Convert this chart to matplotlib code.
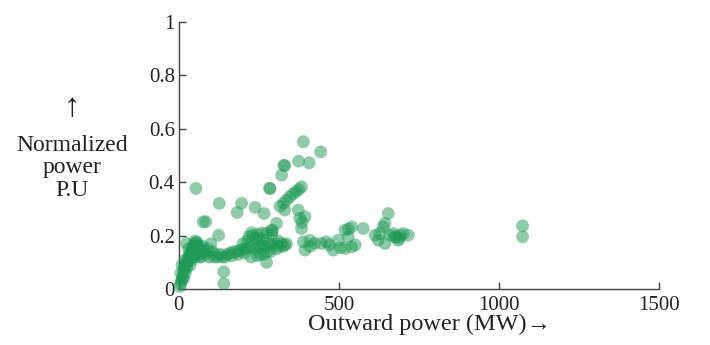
import numpy as np
import matplotlib
matplotlib.use("Agg")
import matplotlib.pyplot as plt

plt.rcParams['font.family'] = ['Liberation Serif', 'DejaVu Serif']

# outward power (MW) and normalized power (P.U)
power_mw = [
    3, 5, 6, 8, 10, 10, 12, 15, 15, 18, 20, 20, 22, 25, 25, 28, 30, 30, 33, 35,
    35, 38, 40, 40, 42, 45, 45, 48, 50, 50, 52, 55, 55, 58, 60, 62, 65, 68, 70, 24,
    56, 63, 73, 75, 80, 85, 90, 95, 100, 105, 110, 115, 120, 124, 130, 135, 140, 140,
    150, 160, 170, 180, 190, 200, 210, 220, 230, 240, 250, 260, 270, 280, 290, 300,
    310, 320, 331, 145, 165, 185, 205, 225, 245, 265, 285, 305, 325,
    218, 230, 245, 260, 275, 291, 227, 250, 264, 290, 310, 336, 200, 215, 240, 255,
    274, 275, 126, 196, 182, 238, 266, 76, 84, 53, 305, 284, 292,
    389, 443, 374, 407, 328, 331, 321, 284,
    316, 326, 336, 346, 356, 366, 375, 383, 331,
    373, 378, 394, 383, 385,
    389, 394, 409, 424, 445, 461, 482, 498, 519, 540, 529, 540, 519, 576, 551, 530,
    410, 470, 505,
    654, 644, 638, 628, 613, 623, 644, 670, 680, 691, 701, 717, 659, 685, 690, 675,
    1074, 1074,
]
norm_pu = [
    0.01, 0.02, 0.06, 0.03, 0.04, 0.09, 0.05, 0.07, 0.04, 0.08, 0.06, 0.11, 0.09, 0.10, 0.08, 0.11, 0.12, 0.15, 0.13, 0.12,
    0.09, 0.14, 0.15, 0.11, 0.13, 0.16, 0.12, 0.17, 0.18, 0.14, 0.16, 0.17, 0.13, 0.15, 0.14, 0.16, 0.13, 0.15, 0.12, 0.171,
    0.177, 0.12, 0.14, 0.16, 0.14, 0.13, 0.15, 0.12, 0.17, 0.14, 0.12, 0.13, 0.12, 0.202, 0.13, 0.12, 0.065, 0.021,
    0.13, 0.135, 0.14, 0.14, 0.145, 0.15, 0.15, 0.155, 0.16, 0.15, 0.16, 0.165, 0.16, 0.17, 0.165, 0.17,
    0.16, 0.17, 0.165, 0.12, 0.125, 0.13, 0.135, 0.12, 0.125, 0.13, 0.14, 0.15, 0.16,
    0.196, 0.20, 0.205, 0.21, 0.21, 0.205, 0.211, 0.19, 0.185, 0.22, 0.18, 0.17, 0.17, 0.18, 0.19, 0.13,
    0.10, 0.14, 0.321, 0.321, 0.287, 0.306, 0.283, 0.252, 0.252, 0.377, 0.246, 0.377, 0.22,
    0.552, 0.514, 0.479, 0.473, 0.464, 0.462, 0.427, 0.377,
    0.31, 0.321, 0.333, 0.345, 0.356, 0.365, 0.373, 0.383, 0.296,
    0.296, 0.265, 0.271, 0.227, 0.25,
    0.177, 0.146, 0.183, 0.171, 0.171, 0.177, 0.146, 0.183, 0.221, 0.233, 0.196, 0.158, 0.152, 0.227, 0.165, 0.225,
    0.16, 0.165, 0.155,
    0.283, 0.246, 0.233, 0.208, 0.202, 0.183, 0.171, 0.208, 0.196, 0.202, 0.208, 0.202, 0.202, 0.183, 0.19, 0.195,
    0.237, 0.196,
]
x_ticks = [0, 500, 1000, 1500]
y_ticks = [0, 0.2, 0.4, 0.6, 0.8, 1]
y_tick_labels = ['0', '0.2', '0.4', '0.6', '0.8', '1']

fig = plt.figure(figsize=(7.1, 3.45), dpi=100)
ax = fig.add_axes([0.252, 0.162, 0.676, 0.774])

ax.scatter(power_mw, norm_pu, s=85, color='#1e9b55', alpha=0.5,
           edgecolors='none', clip_on=False, zorder=3)

ax.set_xlim(0, 1500)
ax.set_ylim(0, 1)
ax.set_xticks(x_ticks)
ax.set_yticks(y_ticks)
ax.set_yticklabels(y_tick_labels)

for side in ['top', 'right']:
    ax.spines[side].set_visible(False)
for side in ['left', 'bottom']:
    ax.spines[side].set_color('#404040')
    ax.spines[side].set_linewidth(1.0)

ax.tick_params(direction='in', length=5, width=1, color='#404040',
               labelsize=15, labelcolor='#222222', pad=3)
ax.tick_params(axis='x', pad=5)

ax.set_xlabel('Outward power (MW)\u2192', fontsize=17.5, color='#222222')
ax.xaxis.set_label_coords(0.521, -0.155, transform=ax.transAxes)
ax.xaxis.label.set_va('baseline')
ax.set_ylabel('Normalized\npower\nP.U', fontsize=17, color='#222222',
              rotation=0, ha='center', va='center', linespacing=1.1)
ax.yaxis.set_label_coords(-0.223, 0.455)
# arrow above the y label
ax.text(-0.223, 0.678, '\u2191', transform=ax.transAxes, fontsize=24,
        color='#222222', ha='center', va='center', fontweight='light')

fig.savefig('out.png', dpi=100)
